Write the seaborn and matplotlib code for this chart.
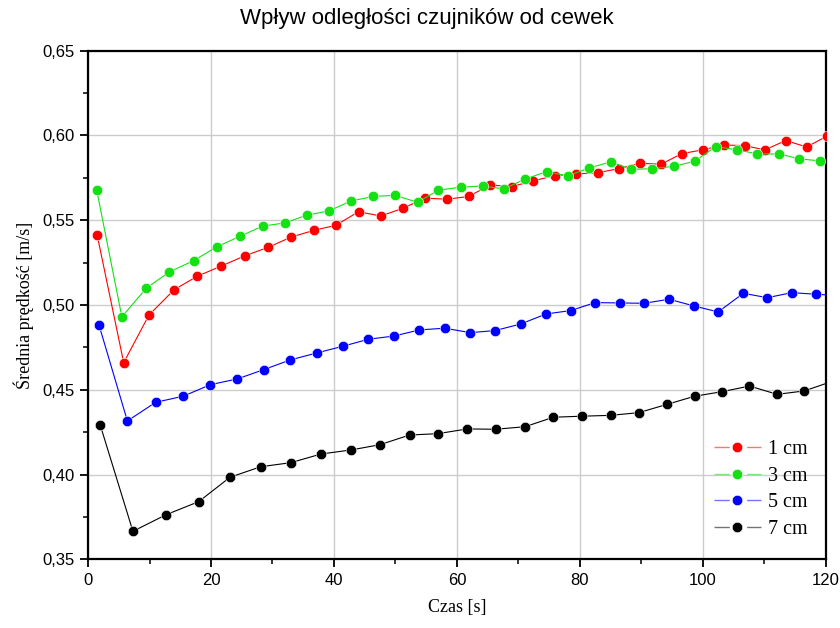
import numpy as np
import pandas as pd
import seaborn as sns
import matplotlib.pyplot as plt
from matplotlib.lines import Line2D
from matplotlib.ticker import MultipleLocator, FuncFormatter

# 1 cm
t_1 = [1.5, 5.8, 9.9, 14.0, 17.8, 21.7, 25.5, 29.3, 33.0, 36.7, 40.3, 44.0, 47.6, 51.2,
       54.8, 58.4, 61.9, 65.4, 68.9, 72.4, 75.9, 79.4, 82.9, 86.3, 89.8, 93.2, 96.6,
       100.0, 103.4, 106.8, 110.1, 113.5, 116.9, 120.2]
v_1 = [0.541, 0.466, 0.494, 0.509, 0.517, 0.523, 0.529, 0.534, 0.540, 0.544, 0.547, 0.555,
       0.5525, 0.557, 0.563, 0.5624, 0.564, 0.5708, 0.5698, 0.5732, 0.5763, 0.5773, 0.578,
       0.5804, 0.5836, 0.583, 0.5893, 0.5915, 0.5944, 0.594, 0.5915, 0.597, 0.5932, 0.5996]

# 3 cm
t_3 = [1.4, 5.5, 9.5, 13.25, 17.2, 20.9, 24.7, 28.4, 32.0, 35.6, 39.2, 42.8, 46.4, 49.9,
       53.6, 57.0, 60.6, 64.2, 67.6, 71.1, 74.6, 78.0, 81.5, 85.0, 88.4, 91.8, 95.3, 98.7,
       102.1, 105.5, 108.9, 112.4, 115.7, 119.1]
v_3 = [0.568, 0.493, 0.510, 0.5195, 0.5262, 0.5342, 0.5405, 0.5465, 0.5484, 0.553, 0.5555,
       0.5614, 0.564, 0.5647, 0.5606, 0.5677, 0.5695, 0.5702, 0.5685, 0.5742, 0.5787, 0.5761,
       0.5808, 0.5844, 0.580, 0.5804, 0.5818, 0.5848, 0.5934, 0.5916, 0.5891, 0.5891, 0.5862,
       0.585]

# 5 cm
t_5 = [1.8, 6.4, 11.0, 15.5, 19.9, 24.3, 28.6, 32.9, 37.2, 41.5, 45.6, 49.8, 53.9, 58.0,
       62.2, 66.2, 70.4, 74.5, 78.5, 82.5, 86.6, 90.5, 94.5, 98.6, 102.5, 106.6, 110.5,
       114.5, 118.5, 122.4]
v_5 = [0.488, 0.4316, 0.4426, 0.4462, 0.453, 0.4564, 0.4619, 0.4676, 0.4717, 0.4757, 0.4798,
       0.4817, 0.4853, 0.4863, 0.4837, 0.4849, 0.4888, 0.4947, 0.4967, 0.5014, 0.5012, 0.501,
       0.5034, 0.4994, 0.4959, 0.5069, 0.5043, 0.5073, 0.5063, 0.5055]

# 7 cm
t_7 = [2.0, 7.3, 12.7, 18.0, 23.1, 28.1, 33.0, 37.9, 42.8, 47.5, 52.3, 56.9, 61.7, 66.3,
       71.1, 75.7, 80.3, 85.0, 89.6, 94.2, 98.7, 103.2, 107.6, 112.1, 116.5, 121.5]
v_7 = [0.429, 0.3665, 0.3763, 0.384, 0.3984, 0.4046, 0.407, 0.4121, 0.4145, 0.4176, 0.4233,
       0.4241, 0.4269, 0.4267, 0.4282, 0.4338, 0.4344, 0.4349, 0.4365, 0.4414, 0.4462, 0.4489,
       0.4522, 0.4473, 0.4493, 0.4555]

series = [("1 cm", t_1, v_1, "#ff0000"),
          ("3 cm", t_3, v_3, "#14e014"),
          ("5 cm", t_5, v_5, "#0000ff"),
          ("7 cm", t_7, v_7, "#000000")]

sns.set_theme(style="ticks")
plt.rcParams["font.family"] = ["Liberation Sans", "DejaVu Sans"]
plt.rcParams["text.color"] = "black"
plt.rcParams["axes.labelcolor"] = "black"
serif = ["Liberation Serif", "DejaVu Serif"]

fig = plt.figure(figsize=(8.4, 6.28), dpi=100)
ax = fig.add_axes([0.1048, 0.1094, 0.8782, 0.8099])

handles = []
for name, t, v, c in series:
    df = pd.DataFrame({"t": t, "v": v})
    sns.lineplot(data=df, x="t", y="v", ax=ax, color=c, lw=0.8, marker="o", ms=7.5,
                 mec="white", mew=0.4, sort=False, estimator=None, zorder=3)
    handles.append((Line2D([], [], color=c, lw=1.0, alpha=0.55, ls=(0, (11, 12.5))),
                    Line2D([], [], color=c, marker="o", ms=7.5, ls="none", mec="white", mew=0.4)))

ax.set_xlim(0, 120)
ax.set_ylim(0.35, 0.65)
ax.xaxis.set_major_locator(MultipleLocator(20))
ax.xaxis.set_minor_locator(MultipleLocator(10))
ax.yaxis.set_major_locator(MultipleLocator(0.05))
ax.yaxis.set_minor_locator(MultipleLocator(0.025))
ax.yaxis.set_major_formatter(FuncFormatter(lambda v, p: f"{v:.2f}".replace(".", ",")))
ax.grid(True, which="major", color="#cccccc", lw=1)
ax.set_axisbelow(True)
for s in ax.spines.values():
    s.set_color("black")
    s.set_linewidth(1.6)
ax.tick_params(which="major", direction="out", length=6, width=1.3, pad=4, labelsize=12, colors="black")
ax.tick_params(which="minor", direction="out", length=3.5, width=1.1, colors="black")

ax.set_xlabel("Czas [s]", family=serif, fontsize=13, labelpad=8)
ax.set_ylabel("Średnia prędkość [m/s]", family=serif, fontsize=13, labelpad=6)
fig.text(0.508, 0.97, "Wpływ odległości czujników od cewek", ha="center", va="center", fontsize=16)

leg = ax.legend(handles, [s[0] for s in series], loc="lower right", bbox_to_anchor=(1.0, 0.004),
                frameon=False, prop={"family": serif, "size": 14.5},
                handlelength=2.35, labelspacing=0.38, borderaxespad=0.5, handletextpad=0.35)

fig.savefig("out.png", dpi=100)
